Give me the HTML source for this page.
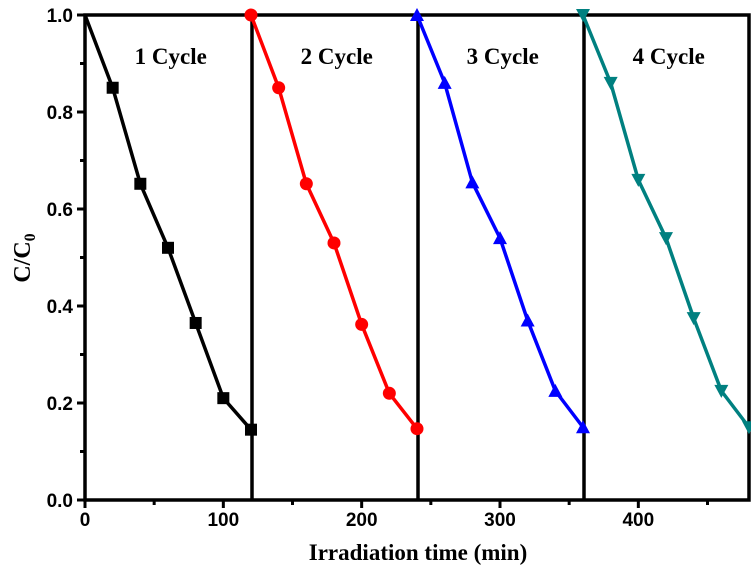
<!DOCTYPE html>
<html><head><meta charset="utf-8"><style>
body{margin:0;background:#fff}
svg{display:block}
.tk{font-family:"Liberation Sans",sans-serif;font-weight:bold;font-size:19px}
.lb{font-family:"Liberation Serif",serif;font-weight:bold}
</style></head><body>
<svg id="c" width="751" height="574"></svg>
<script>
const xTicks=[0,100,200,300,400];
const yTicks=[0.0,0.2,0.4,0.6,0.8,1.0];
const cycleLabels=["1 Cycle","2 Cycle","3 Cycle","4 Cycle"];
const cycleColors=["#000000","#ff0000","#0000ff","#008080"];
const c1x=[0,20,40,60,80,100,120];
const c1y=[1.0,0.85,0.652,0.52,0.365,0.21,0.145];
const c2x=[120,140,160,180,200,220,240];
const c2y=[1.0,0.85,0.652,0.53,0.362,0.22,0.147];
const c3x=[240,260,280,300,320,340,360];
const c3y=[1.0,0.86,0.655,0.54,0.37,0.225,0.15];
const c4x=[360,380,400,420,440,460,480];
const c4y=[1.0,0.86,0.66,0.54,0.375,0.225,0.15];
const dividers=[120,240,360];
const NS="http://www.w3.org/2000/svg";
const svg=document.getElementById('c');
const L=85,R=749,T=15,B=500;
const X=v=>L+(v/480)*(R-L);
const Y=v=>B-v*(B-T);
function el(t,a,p){const e=document.createElementNS(NS,t);for(const k in a)e.setAttribute(k,a[k]);(p||svg).appendChild(e);return e;}
const fr=el('rect',{x:L,y:T,width:R-L,height:B-T,fill:'none',stroke:'#000','stroke-width':3.5});


dividers.forEach(d=>{const l=el('line',{x1:X(d)+1,x2:X(d)+1,y1:T,y2:B,stroke:'#000','stroke-width':3.5});

});
for(let v=0;v<=450;v+=50){const major=v%100===0;el('line',{x1:X(v),x2:X(v),y1:B,y2:B+(major?8:5),stroke:'#000','stroke-width':3});}
xTicks.forEach(v=>{const t=el('text',{x:X(v),y:B+26,'text-anchor':'middle',class:'tk'});t.textContent=v;

});
for(let i=0;i<=10;i++){const v=i/10;const major=i%2===0;el('line',{x1:L,x2:L-(major?8:5),y1:Y(v),y2:Y(v),stroke:'#000','stroke-width':3});}
yTicks.forEach(v=>{const t=el('text',{x:L-12,y:Y(v)+7,'text-anchor':'end',class:'tk'});t.textContent=v.toFixed(1);

});
const xt=el('text',{x:418,y:560,'text-anchor':'middle',class:'lb','font-size':23});xt.textContent='Irradiation time (min)';


const yt=el('text',{x:0,y:0,'text-anchor':'middle',class:'lb','font-size':24,transform:'translate(30,258) rotate(-90)'});
yt.innerHTML='C/C<tspan font-size="16" dy="5">0</tspan>';


const series=[[c1x,c1y],[c2x,c2y],[c3x,c3y],[c4x,c4y]];
const labelX=[20,140,260,380];
series.forEach(([xs,ys],i)=>{
 const col=cycleColors[i];
 const g=el('g',{});
 
 
 el('polyline',{points:xs.map((x,j)=>X(x)+','+Y(ys[j])).join(' '),fill:'none',stroke:col,'stroke-width':3.5,'stroke-linejoin':'round'},g);
 xs.forEach((x,j)=>{if(j===0&&i===0)return;const cx=X(x),cy=Y(ys[j]);let m;
  if(i===0)m=el('rect',{x:cx-6,y:cy-6,width:12,height:12,fill:col},g);
  else if(i===1)m=el('circle',{cx:cx,cy:cy,r:6.5,fill:col},g);
  else if(i===2)m=el('polygon',{points:`${cx},${cy-7} ${cx-7},${cy+6} ${cx+7},${cy+6}`,fill:col},g);
  else m=el('polygon',{points:`${cx},${cy+7} ${cx-7},${cy-6} ${cx+7},${cy-6}`,fill:col},g);
  
  
 });
 const t=el('text',{x:X(labelX[i])+22,y:64,class:'lb','font-size':23});t.textContent=cycleLabels[i];
 
 
});
</script>
</body></html>
